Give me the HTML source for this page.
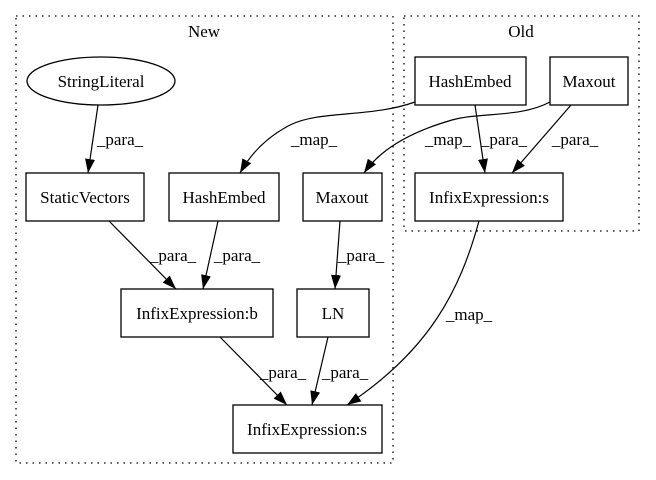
<!DOCTYPE html>
<html><head><meta charset="utf-8"><style>
html,body{margin:0;padding:0;background:#fff;}
svg{display:block;}
text{font-family:"Liberation Serif",serif;font-size:17px;fill:#000;}
</style></head><body>
<svg width="656" height="480" viewBox="0 0 656 480" xmlns="http://www.w3.org/2000/svg">
<defs><marker id="a" markerWidth="14" markerHeight="10" refX="14" refY="5" orient="auto" markerUnits="userSpaceOnUse"><path d="M0,0 L14,5 L0,10 z" fill="#000"/></marker></defs>
<g fill="none" stroke="#000" stroke-width="1.3" stroke-dasharray="1.5,5">
<rect x="16" y="16" width="377" height="447"/>
<rect x="404" y="16" width="235" height="215"/>
</g>
<text x="204" y="37" text-anchor="middle">New</text>
<text x="521" y="37" text-anchor="middle">Old</text>
<g fill="none" stroke="#000" stroke-width="1.3">
<ellipse cx="101" cy="81" rx="74" ry="24"/>
<rect x="26" y="173" width="118" height="48"/>
<rect x="169" y="173" width="110" height="48"/>
<rect x="303" y="173" width="79" height="48"/>
<rect x="415" y="173" width="148" height="48"/>
<rect x="415" y="57" width="111" height="48"/>
<rect x="550" y="57" width="78" height="48"/>
<rect x="121" y="289" width="152" height="48"/>
<rect x="297" y="289" width="72" height="48"/>
<rect x="233" y="405" width="149" height="48"/>
</g>
<g fill="none" stroke="#000" stroke-width="1.2" marker-end="url(#a)">
<path d="M98,105 L88,173"/>
<path d="M415,102 C370,118 320,110 290,125 C265,138 250,155 240,173"/>
<path d="M550,102 C520,118 480,112 452,120 C410,132 380,150 364,173"/>
<path d="M475,105 L485,173"/>
<path d="M571,105 L512,173"/>
<path d="M109,221 L176,289"/>
<path d="M218,221 L203,289"/>
<path d="M340,221 L335,289"/>
<path d="M479,221 C460,290 430,350 347,405"/>
<path d="M220,337 L287,405"/>
<path d="M328,337 L312,405"/>
</g>
<g text-anchor="middle">
<text x="101" y="87">StringLiteral</text>
<text x="85" y="203">StaticVectors</text>
<text x="224" y="203">HashEmbed</text>
<text x="342" y="203">Maxout</text>
<text x="489" y="203">InfixExpression:s</text>
<text x="470" y="87">HashEmbed</text>
<text x="589" y="87">Maxout</text>
<text x="197" y="319">InfixExpression:b</text>
<text x="333" y="319">LN</text>
<text x="307" y="435">InfixExpression:s</text>
<text x="120" y="145">_para_</text>
<text x="314" y="145">_map_</text>
<text x="448" y="145">_map_</text>
<text x="504" y="145">_para_</text>
<text x="575" y="145">_para_</text>
<text x="173" y="261">_para_</text>
<text x="237" y="261">_para_</text>
<text x="361" y="261">_para_</text>
<text x="469" y="320">_map_</text>
<text x="283" y="378">_para_</text>
<text x="345" y="378">_para_</text>
</g>
</svg>
</body></html>
